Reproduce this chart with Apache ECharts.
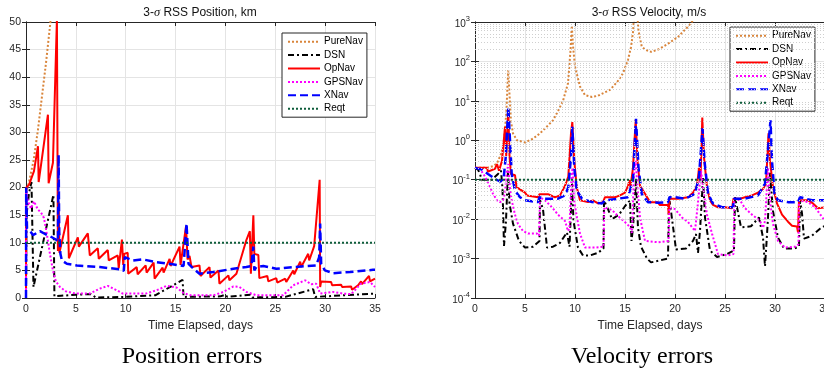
<!DOCTYPE html>
<html>
<head>
<meta charset="utf-8">
<title>3-sigma RSS errors</title>
<script src="https://cdn.jsdelivr.net/npm/echarts@6/dist/echarts.min.js"></script>
<style>
  html, body { margin: 0; padding: 0; background: #fff; }
  #chart { width: 824px; height: 369px; }
</style>
</head>
<body>
<div id="chart"></div>
<script>
// legend order (same for both panels)
const seriesNames = ['PureNav', 'DSN', 'OpNav', 'GPSNav', 'XNav', 'Reqt'];
const captions = ['Position errors', 'Velocity errors'];

// ---- position, km  [day, value] ----
const posPureNav = [[0, 19], [0.3, 21], [0.77, 25], [1.2, 30.5], [1.6, 36.5], [2.0, 42.5], [2.45, 50], [2.7, 55]];
const posDSN = [[0, 0], [0.05, 15], [0.3, 19], [0.55, 21], [0.75, 2], [2.75, 18.7], [2.85, 0.3], [3.5, 0.4], [5, 0.6], [6.5, 0.7],
  [7, 0.1], [10, 0.2], [13, 0.5], [15.7, 3.3], [15.8, 0.2], [19.5, 0.3], [20, 0.6], [20.2, 0.2], [22.5, 0.6], [22.7, 0.1],
  [26, 0.2], [28.8, 1.6], [29, 0.2], [35, 0.8]];
const posOpNav = [[0, 0], [0.02, 20], [0.3, 20.5], [0.8, 23], [1.2, 27.5], [1.27, 21], [2.2, 33.2], [2.27, 20.8], [2.7, 24.5],
  [3.1, 50.5], [3.2, 8.5], [3.28, 17.5], [3.35, 8.2], [4.2, 15], [4.3, 7.2], [5.2, 11], [5.3, 9.3], [6.2, 11.7], [6.4, 7.7],
  [7.2, 9.0], [7.3, 7.1], [8.2, 8.7], [8.3, 6.8], [9.2, 7.7], [9.3, 5.4], [9.62, 10.6], [9.75, 6.0], [9.85, 8.0], [10.2, 8.2],
  [10.25, 4.4], [11.1, 5.6], [11.2, 4.3], [12.0, 5.9], [12.1, 4.6], [12.8, 6.4], [12.9, 3.5], [13.7, 5.5], [13.8, 4.6],
  [14.4, 7.1], [14.5, 5.8], [15.4, 9.3], [15.5, 6.0], [16.05, 13], [16.2, 7.0], [16.4, 7.6], [16.6, 5.6], [17.4, 5.9],
  [17.5, 4.0], [18.4, 5.6], [18.5, 3.7], [19.3, 5.0], [19.4, 2.6], [20.3, 4.1], [20.4, 3.2], [21.1, 4.4], [21.3, 5.6],
  [22.1, 10.5], [22.45, 12.1], [22.55, 4.4], [22.8, 15], [22.9, 8.0], [23.3, 7.8], [23.4, 3.6], [24.2, 4.0], [24.3, 3.0],
  [25.1, 3.6], [25.2, 2.8], [26.0, 3.5], [26.1, 2.9], [26.8, 5.0], [26.9, 4.3], [27.5, 6.6], [27.6, 5.6], [28.3, 8.0],
  [28.4, 6.8], [28.9, 9.4], [29.45, 21.4], [29.5, 2.0], [29.6, 3.0], [30.6, 2.9], [30.7, 2.3], [31.6, 2.4], [31.7, 2.0],
  [32.6, 2.1], [32.7, 1.5], [33.3, 2.3], [33.6, 3.0], [33.7, 2.5], [34.4, 4.0], [34.5, 3.0], [35, 3.5]];
const posGPSNav = [[0, 0], [0.03, 19.5], [0.2, 17.5], [0.5, 16.2], [0.8, 17.5], [1.0, 17.8], [1.2, 16.0], [1.5, 15.5],
  [1.8, 14.5], [2.1, 11.5], [2.4, 8.0], [2.7, 5.0], [3.0, 3.0], [3.4, 2.0], [4.0, 1.2], [5, 0.8], [6.4, 0.8], [7.4, 1.7],
  [8.2, 2.2], [9.1, 1.4], [9.7, 0.8], [12, 0.8], [13.1, 1.4], [14.1, 2.2], [15.1, 1.9], [15.8, 0.9], [16.5, 0.5], [18.8, 0.5],
  [19.8, 1.1], [20.8, 2.1], [21.4, 2.0], [22.1, 1.1], [23.1, 0.5], [25.8, 0.5], [26.8, 2.3], [28, 3.2], [28.6, 2.5], [29.1, 2.6],
  [29.5, 0.8], [30.8, 1.1], [31.8, 0.8], [32.6, 0.7], [33.6, 2.6], [34.5, 2.9], [35, 2.0]];
const posXNav = [[0, 0], [0.02, 20], [0.1, 12.6], [0.5, 11.9], [0.7, 11.4], [1.4, 12.1], [2.0, 11.5], [2.4, 11.2], [3.0, 10.6],
  [3.2, 10.2], [3.27, 25.9], [3.33, 12], [3.45, 8.0], [3.6, 6.8], [4.1, 6.2], [5.1, 5.9], [7.4, 5.6], [9.4, 5.2], [9.8, 4.9],
  [9.9, 7.4], [10.7, 6.8], [11.7, 7.0], [13.1, 6.5], [14.7, 6.1], [15.8, 5.8], [16.1, 13.5], [16.3, 6.2], [16.8, 5.3],
  [17.4, 4.4], [18.8, 4.7], [20.8, 5.3], [22.1, 5.6], [22.6, 5.8], [22.8, 9.3], [22.9, 5.0], [23.1, 5.6], [23.8, 5.8],
  [25.1, 5.3], [26.8, 5.6], [29.1, 5.9], [29.4, 7.4], [29.5, 13.5], [29.6, 6.2], [29.97, 5.0], [30.8, 4.5], [32.5, 4.7],
  [34.8, 5.1], [35, 5.1]];
const posReqt = [[0, 10], [35, 10]];

// ---- velocity, m/s  [day, value] ----
const velPureNav = [[0, 0.2], [1.2, 0.2], [1.8, 0.22], [2.2, 0.26], [2.6, 0.45], [2.85, 0.8], [3.0, 1.8], [3.15, 6], [3.25, 25],
  [3.33, 60], [3.42, 20], [3.6, 3], [3.8, 1.5], [4.2, 1.0], [5.0, 0.88], [5.8, 1.1], [6.5, 1.5], [7.0, 2.0], [7.8, 3.2],
  [8.3, 5.5], [8.8, 10], [9.3, 28], [9.55, 190], [9.68, 800], [9.8, 250], [10.0, 74], [10.5, 23], [11.0, 14], [11.7, 12.5],
  [12.3, 13.5], [13.5, 19], [14.3, 32], [14.8, 50], [15.3, 110], [15.6, 230], [15.8, 550], [15.95, 2000], [16.2, 2000],
  [16.35, 600], [16.67, 240], [17.0, 200], [17.6, 175], [18.3, 200], [19.3, 280], [20.3, 420], [21.3, 760], [21.8, 1100],
  [22.3, 2000]];
const velDSN = [[0, 0.2], [0.3, 0.18], [0.5, 0.14], [0.67, 0.1], [1.7, 0.1], [2.3, 0.14], [2.6, 0.17], [2.75, 0.06], [2.9, 0.0021],
  [3.1, 0.009], [3.3, 0.17], [3.45, 0.025], [3.8, 0.0077], [4.4, 0.0028], [5.0, 0.0019], [5.8, 0.002], [6.45, 0.0028],
  [6.5, 0.03], [6.8, 0.018], [7.2, 0.0019], [7.8, 0.002], [8.5, 0.0025], [9.2, 0.0046], [9.45, 0.002], [9.7, 0.08],
  [9.85, 0.009], [10.3, 0.0019], [10.8, 0.0012], [11.5, 0.0012], [12.3, 0.0014], [12.85, 0.0018], [12.9, 0.03], [13.3, 0.018],
  [13.7, 0.01], [14.4, 0.013], [15.2, 0.025], [15.5, 0.03], [15.65, 0.0028], [15.8, 0.006], [16.1, 0.1], [16.3, 0.006],
  [16.6, 0.002], [17.2, 0.001], [17.6, 0.0008], [18.5, 0.0009], [19.3, 0.001], [19.4, 0.036], [19.55, 0.02], [20.1, 0.0017],
  [21.1, 0.0018], [21.8, 0.0028], [22.1, 0.0042], [22.3, 0.0014], [22.5, 0.005], [22.8, 0.11], [23.0, 0.011], [23.5, 0.0016],
  [24.2, 0.0011], [25.2, 0.0013], [25.9, 0.0016], [26.0, 0.036], [26.6, 0.0062], [27.6, 0.0066], [28.4, 0.011], [28.8, 0.0034],
  [29.0, 0.00064], [29.15, 0.0025], [29.3, 0.011], [29.5, 0.15], [29.8, 0.016], [30.3, 0.0034], [30.9, 0.0018], [31.9, 0.0018],
  [32.4, 0.002], [32.5, 0.03], [32.7, 0.014], [32.9, 0.0032], [33.7, 0.0038], [34.5, 0.0057], [35, 0.0068]];
const velOpNav = [[0, 0.2], [1.2, 0.2], [1.3, 0.16], [2.0, 0.19], [2.2, 0.25], [2.4, 0.17], [2.7, 0.3], [3.0, 2.2], [3.12, 0.4],
  [3.33, 5.5], [3.45, 0.4], [3.6, 0.14], [4.0, 0.13], [4.15, 0.065], [5.0, 0.047], [5.2, 0.04], [6.3, 0.036], [6.45, 0.043],
  [7.3, 0.043], [8.0, 0.036], [8.5, 0.04], [9.0, 0.07], [9.33, 0.12], [9.6, 1.5], [9.73, 2.9], [9.93, 0.3], [10.17, 0.065],
  [10.5, 0.03], [11.3, 0.027], [11.8, 0.03], [12.3, 0.025], [12.8, 0.027], [13.0, 0.036], [14.0, 0.036], [14.5, 0.04],
  [15.0, 0.047], [15.3, 0.07], [15.45, 0.097], [15.55, 0.065], [15.8, 0.2], [16.07, 3.3], [16.25, 0.3], [16.5, 0.07],
  [17.0, 0.044], [17.5, 0.027], [18.3, 0.027], [18.45, 0.023], [19.3, 0.023], [19.37, 0.013], [19.45, 0.033], [20.3, 0.033],
  [21.3, 0.036], [21.8, 0.047], [22.2, 0.07], [22.4, 0.2], [22.55, 0.1], [22.73, 3.8], [22.9, 0.37], [23.2, 0.065],
  [23.5, 0.03], [23.8, 0.023], [24.3, 0.02], [25.0, 0.02], [25.7, 0.019], [25.85, 0.033], [26.5, 0.033], [27.0, 0.036],
  [27.7, 0.04], [28.3, 0.047], [28.8, 0.058], [29.1, 0.08], [29.35, 1.5], [29.5, 0.3], [29.8, 0.065], [30.2, 0.025],
  [30.7, 0.013], [31.3, 0.0086], [31.7, 0.0068], [32.2, 0.0065], [32.3, 0.0046], [32.4, 0.03], [33.3, 0.03], [33.8, 0.025],
  [34.3, 0.019], [35, 0.02]];
const velGPSNav = [[0, 0.2], [0.5, 0.19], [1.0, 0.12], [1.5, 0.065], [1.8, 0.044], [2.2, 0.03], [2.5, 0.027], [2.8, 0.03],
  [3.0, 0.045], [3.15, 0.14], [3.33, 0.25], [3.5, 0.06], [3.67, 0.03], [4.0, 0.013], [4.3, 0.0075], [4.8, 0.005], [5.3, 0.0043],
  [6.2, 0.0043], [6.4, 0.0038], [6.5, 0.036], [7.0, 0.03], [7.7, 0.02], [8.3, 0.013], [9.0, 0.009], [9.3, 0.005], [9.45, 0.006],
  [9.67, 0.14], [9.77, 0.2], [9.9, 0.03], [10.2, 0.011], [10.5, 0.0043], [11.0, 0.0019], [12.0, 0.0019], [12.85, 0.002],
  [12.93, 0.02], [13.7, 0.017], [14.3, 0.012], [15.0, 0.0084], [15.5, 0.0063], [15.7, 0.0045], [15.9, 0.14], [16.07, 0.3],
  [16.25, 0.065], [16.5, 0.011], [17.0, 0.0028], [18.3, 0.0026], [19.35, 0.0028], [19.45, 0.02], [20.0, 0.018], [20.7, 0.011],
  [21.3, 0.0085], [22.0, 0.005], [22.25, 0.02], [22.6, 0.17], [22.8, 0.065], [23.2, 0.013], [23.7, 0.0043], [24.3, 0.0013],
  [25.3, 0.0012], [25.85, 0.0013], [25.93, 0.033], [26.5, 0.03], [27.0, 0.019], [27.7, 0.013], [28.5, 0.009], [28.8, 0.006],
  [29.0, 0.009], [29.3, 0.2], [29.5, 0.03], [29.8, 0.0075], [30.3, 0.0028], [31.0, 0.0019], [32.0, 0.002], [32.35, 0.0023],
  [32.4, 0.03], [33.3, 0.027], [34.0, 0.02], [35, 0.009]];
const velXNav = [[0, 0.2], [0.7, 0.18], [1.3, 0.14], [2.0, 0.105], [2.5, 0.09], [2.85, 0.1], [3.07, 0.37], [3.33, 7], [3.5, 1.0],
  [3.67, 0.14], [4.0, 0.053], [4.5, 0.036], [5.0, 0.03], [6.3, 0.027], [6.45, 0.036], [7.0, 0.033], [8.3, 0.033], [9.0, 0.04],
  [9.33, 0.065], [9.6, 0.37], [9.73, 2.2], [9.93, 0.2], [10.17, 0.053], [10.7, 0.033], [11.7, 0.027], [12.7, 0.025],
  [13.0, 0.03], [14.3, 0.033], [15.3, 0.036], [15.8, 0.1], [16.1, 3.5], [16.35, 0.2], [16.67, 0.044], [17.3, 0.027],
  [18.3, 0.026], [19.3, 0.027], [19.45, 0.036], [20.0, 0.036], [21.0, 0.033], [22.0, 0.044], [22.4, 0.12], [22.75, 2.0],
  [22.95, 0.3], [23.3, 0.044], [23.8, 0.025], [24.7, 0.02], [25.8, 0.02], [25.9, 0.033], [27.0, 0.033], [28.3, 0.04],
  [29.0, 0.08], [29.55, 3.2], [29.7, 0.3], [29.95, 0.044], [30.3, 0.03], [31.3, 0.027], [32.3, 0.027], [32.5, 0.036],
  [33.7, 0.03], [35, 0.03]];
const velReqt = [[0, 0.1], [35, 0.1]];

const posData = [posPureNav, posDSN, posOpNav, posGPSNav, posXNav, posReqt];
const velData = [velPureNav, velDSN, velOpNav, velGPSNav, velXNav, velReqt];

// MATLAB-ish line specs
const lineSpecs = {
  PureNav: { color: '#d9853b', type: [2, 2], width: 2 },
  DSN: { color: '#000000', type: [6, 3, 2, 3], width: 2 },
  OpNav: { color: '#ff0000', type: 'solid', width: 2 },
  GPSNav: { color: '#ff00ff', type: [2, 2], width: 2 },
  XNav: { color: '#0000ff', type: [8, 4], width: 2.5 },
  Reqt: { color: '#0d5c3a', type: [2, 2], width: 2 },
};

const TXT = '#262626';
const FONT = 'Liberation Sans';
const GRID_CLR = '#e4e4e4';

// minor grid lines for the log panel (2..9 of each decade)
const minorLogLines = [];
for (let e = -4; e < 3; e++) {
  for (let m = 2; m <= 9; m++) minorLogLines.push({ yAxis: m * Math.pow(10, e) });
}

function lineSeries(name, data, axisIdx) {
  const s = lineSpecs[name];
  return {
    name: name,
    type: 'line',
    xAxisIndex: axisIdx,
    yAxisIndex: axisIdx,
    data: data,
    symbol: 'none',
    showSymbol: false,
    clip: true,
    silent: true,
    lineStyle: { color: s.color, type: s.type, width: s.width },
    itemStyle: { color: s.color },
  };
}

function xAxes(gridIndex) {
  const common = {
    gridIndex: gridIndex, type: 'value', min: 0, max: 35, interval: 5,
    axisLine: { show: true, onZero: false, lineStyle: { color: TXT, width: 1 } },
    axisTick: { show: true, inside: true, length: 4, lineStyle: { color: TXT } },
  };
  return [
    Object.assign({}, common, {
      position: 'bottom',
      name: 'Time Elapsed, days', nameLocation: 'middle', nameGap: 21,
      nameTextStyle: { color: TXT, fontSize: 12, fontFamily: FONT },
      axisLabel: { color: TXT, fontSize: 10.5, fontFamily: FONT, margin: 6 },
      splitLine: { show: true, lineStyle: { color: GRID_CLR, width: 1 } },
    }),
    Object.assign({}, common, { position: 'top', axisLabel: { show: false }, splitLine: { show: false } }),
  ];
}

function logLabel(v) {
  const e = Math.round(Math.log10(v));
  return '{b|10}{s|' + e + '}';
}

const yPos = {
  gridIndex: 0, type: 'value', min: 0, max: 50, interval: 5,
  axisLine: { show: true, lineStyle: { color: TXT, width: 1 } },
  axisTick: { show: true, inside: true, length: 4, lineStyle: { color: TXT } },
};
const yVel = {
  gridIndex: 1, type: 'log', logBase: 10, min: 1e-4, max: 1e3, splitNumber: 7,
  axisLine: { show: true, lineStyle: { color: TXT, width: 1 } },
  axisTick: { show: true, inside: true, length: 4, lineStyle: { color: TXT } },
};

const titleStyle = {
  fontSize: 12, fontWeight: 'normal', color: '#111', fontFamily: FONT,
  rich: { i: { fontStyle: 'italic', fontFamily: 'Liberation Serif', fontSize: 12.5, color: '#111' } },
};

const option = {
  animation: false,
  backgroundColor: '#fff',
  textStyle: { fontFamily: FONT },
  title: [
    { text: '3-{i|σ} RSS Position, km', left: 200, top: 6, padding: 0, textAlign: 'center', textStyle: titleStyle },
    { text: '3-{i|σ} RSS Velocity, m/s', left: 649, top: 6, padding: 0, textAlign: 'center', textStyle: titleStyle },
  ],
  legend: [282, 730].map((left, i) => ({
    data: seriesNames,
    orient: 'vertical',
    left: left,
    top: i === 0 ? 33 : 27,
    itemWidth: 32,
    itemHeight: 10,
    itemGap: 3.4,
    padding: [3.7, 4, 3.5, 5],
    backgroundColor: '#fff',
    borderColor: TXT,
    borderWidth: 1,
    borderRadius: 0,
    selectedMode: false,
    itemStyle: { opacity: 0 },
    textStyle: { fontSize: 10, lineHeight: 10, color: '#000', fontFamily: FONT, padding: [0, 0, 0, -1] },
  })),
  grid: [
    { left: 26, top: 22, width: 349, height: 276, outerBoundsMode: 'none' },
    { left: 475, top: 22, width: 350, height: 276, outerBoundsMode: 'none' },
  ],
  xAxis: xAxes(0).concat(xAxes(1)),
  yAxis: [
    Object.assign({}, yPos, {
      position: 'left',
      axisLabel: { color: TXT, fontSize: 10.5, fontFamily: FONT, margin: 5 },
      splitLine: { show: true, lineStyle: { color: GRID_CLR, width: 1 } },
    }),
    Object.assign({}, yPos, { position: 'right', axisLabel: { show: false }, splitLine: { show: false } }),
    Object.assign({}, yVel, {
      position: 'left',
      axisLabel: {
        margin: 5, formatter: logLabel,
        rich: {
          b: { fontSize: 10, color: TXT, fontFamily: FONT, verticalAlign: 'bottom', lineHeight: 14 },
          s: { fontSize: 7.5, color: TXT, fontFamily: FONT, verticalAlign: 'top', lineHeight: 8 },
        },
      },
      splitLine: { show: true, lineStyle: { color: GRID_CLR, width: 1 } },
    }),
    Object.assign({}, yVel, { position: 'right', axisLabel: { show: false }, splitLine: { show: false } }),
  ],
  graphic: [
    { type: 'text', x: 192, y: 357, style: { text: captions[0], fontSize: 24, fontFamily: 'Liberation Serif', fill: '#000', align: 'center', verticalAlign: 'middle' } },
    { type: 'text', x: 642, y: 357, style: { text: captions[1], fontSize: 24, fontFamily: 'Liberation Serif', fill: '#000', align: 'center', verticalAlign: 'middle' } },
  ],
  series: [
    {
      name: 'minorGrid', type: 'line', xAxisIndex: 2, yAxisIndex: 2, data: [], silent: true, z: 1,
      markLine: {
        silent: true, symbol: ['none', 'none'], label: { show: false }, animation: false,
        lineStyle: { color: '#cfcfcf', type: [1, 2], width: 1 },
        data: minorLogLines,
      },
    },
  ]
    .concat(seriesNames.map((n, i) => lineSeries(n, posData[i], 0)))
    .concat(seriesNames.map((n, i) => lineSeries(n, velData[i], 2))),
};

const chart = echarts.init(document.getElementById('chart'), null, { renderer: 'canvas' });
chart.setOption(option);
</script>
</body>
</html>
